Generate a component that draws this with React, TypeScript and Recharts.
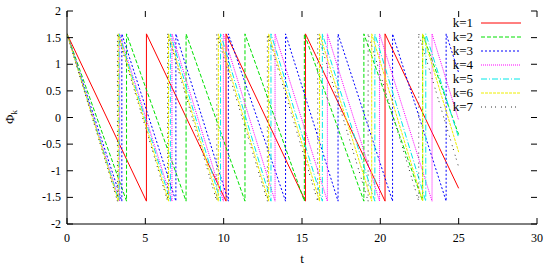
import React from 'react'
import { LineChart, Line, XAxis, YAxis, Label } from 'recharts'

// phase limits (pi/2)
const PHASE_TOP = 1.5708
const PHASE_BOTTOM = -1.5708
const T_END = 25

// reset times (phase jumps back to the top)
const resetsK1 = [5.07, 10.15, 15.22, 20.3]
const resetsK2 = [3.8, 7.6, 11.36, 15.15, 18.95, 22.7]
const resetsK3 = [3.5, 6.95, 10.3, 13.95, 17.3, 20.78, 24.2]
const resetsK4 = [3.36, 6.7, 9.98, 13.28, 16.62, 19.95, 23.3]
const resetsK5 = [3.32, 6.6, 9.8, 13.02, 16.3, 19.65, 22.9]
const resetsK6 = [3.27, 6.48, 9.66, 12.87, 16.12, 19.45, 22.7]
const resetsK7 = [3.22, 6.42, 9.56, 12.79, 16.0, 19.22, 22.45]

// phase value at t = 25
const endValues = [-1.33, -0.32, 0.84, -0.05, -0.38, -0.65, -0.93]

const xTicks = [0, 5, 10, 15, 20, 25, 30]
const yTicks = [-2, -1.5, -1, -0.5, 0, 0.5, 1, 1.5, 2]

const seriesNames = ['k=1', 'k=2', 'k=3', 'k=4', 'k=5', 'k=6', 'k=7']
const seriesColors = ['#ff0000', '#00e000', '#0000ff', '#ff00ff', '#00e8e8', '#eeee00', '#333333']
const seriesDash = ['', '4 2', '2 2', '1 1', '6 2 1 2', '3 1', '1 3 1 5']

const allResets = [resetsK1, resetsK2, resetsK3, resetsK4, resetsK5, resetsK6, resetsK7]

function buildSeries(resets: number[], endValue: number) {
  const pts = [{ t: 0, v: PHASE_TOP }]
  resets.forEach((r) => {
    pts.push({ t: r, v: PHASE_BOTTOM })
    pts.push({ t: r, v: PHASE_TOP })
  })
  pts.push({ t: T_END, v: endValue })
  return pts
}

const series = allResets.map((r, i) => buildSeries(r, endValues[i]))

// plot box
const W = 550
const H = 269
const LEFT = 67
const RIGHT = 537
const TOP = 11
const BOTTOM = 224
const TICK = 6
const FONT = '"Liberation Serif", "DejaVu Serif", serif'

const XTick = (props: any) => {
  const { x, payload } = props
  return (
    <g>
      <line x1={x} x2={x} y1={BOTTOM} y2={BOTTOM - TICK} stroke="#000" />
      <line x1={x} x2={x} y1={TOP} y2={TOP + TICK} stroke="#000" />
      <text x={x} y={BOTTOM + 18} textAnchor="middle" fontSize={12} fontFamily={FONT} fill="#000">
        {payload.value}
      </text>
    </g>
  )
}

const YTick = (props: any) => {
  const { y, payload } = props
  return (
    <g>
      <line x1={LEFT} x2={LEFT + TICK} y1={y} y2={y} stroke="#000" />
      <line x1={RIGHT} x2={RIGHT - TICK} y1={y} y2={y} stroke="#000" />
      <text x={61} y={y + 4} textAnchor="end" fontSize={12} fontFamily={FONT} fill="#000">
        {payload.value}
      </text>
    </g>
  )
}

const YTitle = () => (
  <text x={14} y={117} transform="rotate(-90 14 117)" textAnchor="middle" fontSize={13} fontFamily={FONT} fill="#000">
    Φ<tspan fontSize={9} dy={3}>k</tspan>
  </text>
)

const XTitle = () => (
  <text x={(LEFT + RIGHT) / 2} y={263} textAnchor="middle" fontSize={13} fontFamily={FONT} fill="#000">
    t
  </text>
)

export default function App() {
  return (
    <div style={{ position: 'absolute', left: 0, top: 0, width: W, height: H, background: '#fff' }}>
      <LineChart width={W} height={H} margin={{ top: TOP, right: W - RIGHT, bottom: 0, left: 0 }}>
        <XAxis
          dataKey="t"
          type="number"
          domain={[0, 30]}
          ticks={xTicks}
          height={H - BOTTOM}
          tickLine={false}
          axisLine={{ stroke: '#000' }}
          tick={<XTick />}
          allowDataOverflow
        >
          <Label content={<XTitle />} />
        </XAxis>
        <XAxis
          xAxisId="top"
          orientation="top"
          type="number"
          domain={[0, 30]}
          height={0}
          tick={false}
          tickLine={false}
          axisLine={{ stroke: '#000' }}
        />
        <YAxis
          type="number"
          domain={[-2, 2]}
          ticks={yTicks}
          width={LEFT}
          tickLine={false}
          axisLine={{ stroke: '#000' }}
          tick={<YTick />}
          allowDataOverflow
        >
          <Label content={<YTitle />} />
        </YAxis>
        <YAxis
          yAxisId="right"
          orientation="right"
          type="number"
          domain={[-2, 2]}
          width={0}
          tick={false}
          tickLine={false}
          axisLine={{ stroke: '#000' }}
        />
        {series.map((d, i) => (
          <Line
            key={seriesNames[i]}
            data={d}
            dataKey="v"
            name={seriesNames[i]}
            stroke={seriesColors[i]}
            strokeWidth={1}
            strokeDasharray={seriesDash[i]}
            dot={false}
            isAnimationActive={false}
          />
        ))}
      </LineChart>
      {/* gnuplot-style key, no box */}
      <svg width={W} height={H} style={{ position: 'absolute', left: 0, top: 0, pointerEvents: 'none' }}>
        {seriesNames.map((name, i) => {
          const cy = 23 + i * 14
          return (
            <g key={name}>
              <text x={473} y={cy + 4} textAnchor="end" fontSize={13} fontFamily={FONT} fill="#000">
                {name}
              </text>
              <line x1={481} x2={521} y1={cy} y2={cy} stroke={seriesColors[i]} strokeDasharray={seriesDash[i]} />
            </g>
          )
        })}
      </svg>
    </div>
  )
}
